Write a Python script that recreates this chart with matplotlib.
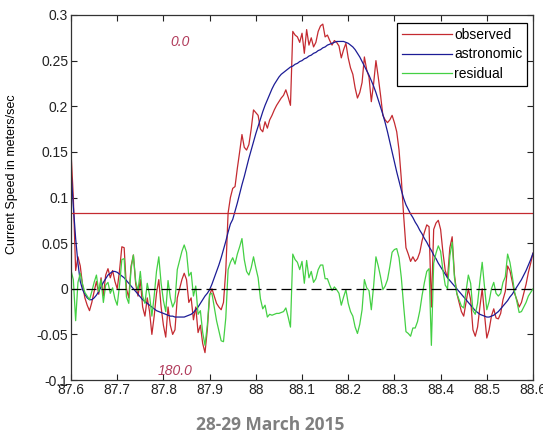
import numpy as np
import matplotlib
matplotlib.use("Agg")
import matplotlib.pyplot as plt

# time in days, sampled every 0.005 day
t = np.linspace(87.6, 88.6, 201)

observed = [
    0.150, 0.100, 0.020, 0.035, 0.025, 0.004, -0.010, -0.018, -0.024, -0.015,
    -0.003, 0.008, -0.006, 0.012, -0.008, 0.015, 0.022, 0.012, 0.020, 0.008,
    0.000, 0.020, 0.046, 0.045, 0.000, -0.010, 0.025, 0.037, 0.005, -0.008,
    0.010, -0.020, -0.030, -0.010, -0.025, -0.050, -0.030, -0.005, 0.010, -0.020,
    -0.040, -0.053, -0.020, -0.040, -0.050, -0.045, -0.010, 0.000, 0.010, 0.017,
    0.010, -0.015, -0.010, -0.034, -0.020, -0.048, -0.040, -0.060, -0.070, -0.045,
    -0.007, 0.000, -0.008, -0.016, -0.020, -0.023, -0.015, 0.020, 0.083, 0.100,
    0.110, 0.112, 0.132, 0.150, 0.169, 0.155, 0.152, 0.158, 0.175, 0.196,
    0.193, 0.190, 0.175, 0.172, 0.183, 0.176, 0.185, 0.190, 0.196, 0.201,
    0.205, 0.209, 0.212, 0.218, 0.210, 0.201, 0.282, 0.278, 0.276, 0.270,
    0.280, 0.258, 0.284, 0.267, 0.275, 0.265, 0.270, 0.282, 0.288, 0.290,
    0.276, 0.278, 0.272, 0.267, 0.272, 0.270, 0.266, 0.253, 0.262, 0.269,
    0.253, 0.242, 0.235, 0.220, 0.209, 0.215, 0.226, 0.254, 0.240, 0.232,
    0.205, 0.225, 0.250, 0.232, 0.212, 0.190, 0.185, 0.182, 0.185, 0.190,
    0.182, 0.172, 0.152, 0.120, 0.080, 0.045, 0.038, 0.030, 0.035, 0.030,
    0.033, 0.040, 0.053, 0.062, 0.070, 0.068, -0.020, 0.065, 0.072, 0.075,
    0.065, 0.040, 0.020, 0.012, 0.045, 0.057, 0.015, -0.005, -0.015, -0.025,
    -0.030, -0.015, 0.000, -0.012, -0.045, -0.052, -0.042, -0.020, 0.000, -0.028,
    -0.054, -0.045, -0.030, -0.022, -0.032, -0.033, -0.027, -0.012, -0.003, 0.025,
    0.020, 0.008, -0.005, -0.012, -0.020, -0.015, -0.005, 0.005, 0.018, 0.028,
    0.039,
]

astronomic = [
    0.130, 0.090, 0.055, 0.028, 0.008, -0.001, -0.006, -0.010, -0.012, -0.012,
    -0.010, -0.007, -0.003, 0.002, 0.007, 0.011, 0.015, 0.017, 0.019, 0.019,
    0.018, 0.016, 0.014, 0.012, 0.009, 0.006, 0.003, 0.000, -0.003, -0.006,
    -0.009, -0.012, -0.014, -0.016, -0.018, -0.020, -0.022, -0.024, -0.025, -0.026,
    -0.027, -0.028, -0.029, -0.030, -0.030, -0.031, -0.031, -0.031, -0.031, -0.031,
    -0.030, -0.029, -0.028, -0.026, -0.023, -0.020, -0.016, -0.012, -0.008, -0.005,
    -0.001, 0.005, 0.012, 0.019, 0.026, 0.034, 0.043, 0.052, 0.062, 0.071,
    0.076, 0.085, 0.094, 0.104, 0.114, 0.123, 0.133, 0.143, 0.152, 0.161,
    0.170, 0.178, 0.186, 0.194, 0.201, 0.207, 0.213, 0.219, 0.224, 0.228,
    0.232, 0.235, 0.237, 0.239, 0.241, 0.243, 0.244, 0.246, 0.247, 0.249,
    0.250, 0.252, 0.253, 0.255, 0.256, 0.258, 0.259, 0.261, 0.262, 0.264,
    0.265, 0.267, 0.268, 0.269, 0.270, 0.271, 0.271, 0.271, 0.271, 0.270,
    0.269, 0.267, 0.265, 0.262, 0.258, 0.254, 0.249, 0.244, 0.239, 0.234,
    0.228, 0.222, 0.215, 0.207, 0.199, 0.191, 0.182, 0.172, 0.161, 0.150,
    0.139, 0.128, 0.118, 0.108, 0.099, 0.092, 0.087, 0.082, 0.078, 0.073,
    0.069, 0.064, 0.060, 0.055, 0.051, 0.046, 0.042, 0.037, 0.033, 0.028,
    0.024, 0.020, 0.016, 0.012, 0.009, 0.006, 0.003, 0.000, -0.003, -0.006,
    -0.009, -0.012, -0.015, -0.018, -0.021, -0.024, -0.026, -0.028, -0.029, -0.030,
    -0.031, -0.031, -0.030, -0.029, -0.027, -0.025, -0.022, -0.019, -0.016, -0.013,
    -0.009, -0.006, -0.002, 0.002, 0.006, 0.010, 0.015, 0.020, 0.026, 0.032,
    0.039,
]

residual = [
    0.020, 0.010, -0.035, 0.007, 0.017, 0.005, -0.004, -0.008, -0.012, -0.003,
    0.007, 0.015, -0.003, 0.010, -0.015, 0.004, 0.007, -0.005, 0.001, -0.011,
    -0.018, 0.004, 0.032, 0.033, -0.009, -0.016, 0.022, 0.037, 0.008, -0.002,
    0.019, -0.008, -0.016, 0.006, -0.007, -0.030, -0.008, 0.019, 0.035, 0.006,
    -0.013, -0.025, 0.009, -0.010, -0.020, -0.014, 0.021, 0.031, 0.041, 0.048,
    0.040, 0.014, 0.018, -0.008, 0.003, -0.028, -0.024, -0.048, -0.062, -0.040,
    -0.006, -0.005, -0.020, -0.035, -0.046, -0.057, -0.058, -0.032, 0.021, 0.029,
    0.034, 0.027, 0.038, 0.046, 0.055, 0.032, 0.019, 0.015, 0.023, 0.035,
    0.023, 0.012, -0.011, -0.022, -0.018, -0.031, -0.028, -0.029, -0.028, -0.027,
    -0.027, -0.026, -0.025, -0.021, -0.031, -0.042, 0.038, 0.032, 0.029, 0.021,
    0.030, 0.006, 0.031, 0.012, 0.019, 0.007, 0.011, 0.021, 0.026, 0.026,
    0.011, 0.011, 0.004, -0.002, 0.002, -0.001, -0.005, -0.018, -0.009, -0.001,
    -0.016, -0.025, -0.030, -0.042, -0.049, -0.039, -0.023, 0.010, 0.001, -0.002,
    -0.023, 0.003, 0.035, 0.025, 0.013, -0.001, 0.003, 0.010, 0.024, 0.040,
    0.043, 0.044, 0.034, 0.012, -0.019, -0.047, -0.049, -0.052, -0.043, -0.043,
    -0.036, -0.024, -0.007, 0.007, 0.019, 0.022, -0.062, 0.028, 0.039, 0.047,
    0.041, 0.020, 0.004, 0.000, 0.036, 0.051, 0.012, -0.005, -0.012, -0.019,
    -0.021, -0.003, 0.015, 0.006, -0.024, -0.028, -0.016, 0.008, 0.029, 0.002,
    -0.023, -0.014, 0.000, 0.007, -0.005, -0.008, -0.005, 0.007, 0.013, 0.038,
    0.029, 0.014, -0.003, -0.014, -0.026, -0.025, -0.020, -0.015, -0.008, -0.004,
    0.000,
]

threshold = 0.083
xticks = [87.6, 87.7, 87.8, 87.9, 88.0, 88.1, 88.2, 88.3, 88.4, 88.5, 88.6]
xticklabels = ["87.6", "87.7", "87.8", "87.9", "88", "88.1", "88.2", "88.3", "88.4", "88.5", "88.6"]
yticks = [-0.1, -0.05, 0, 0.05, 0.1, 0.15, 0.2, 0.25, 0.3]
yticklabels = ["-0.1", "-0.05", "0", "0.05", "0.1", "0.15", "0.2", "0.25", "0.3"]

plt.rcParams['font.family'] = ['Liberation Sans', 'DejaVu Sans']

fig = plt.figure(figsize=(5.43, 4.37), dpi=100)
ax = fig.add_axes([0.1308, 0.1304, 0.8508, 0.8353])

ax.plot(t, observed, color='#c42a30', lw=0.9, label='observed')
ax.plot(t, astronomic, color='#1c1c96', lw=0.9, label='astronomic')
ax.plot(t, residual, color='#44d044', lw=0.9, label='residual')
ax.axhline(threshold, color='#c42a30', lw=0.9)
ax.axhline(0, color='black', lw=0.9, linestyle=(0, (8, 4)))

ax.text(87.836, 0.27, "0.0", color='#b03a5a', fontstyle='italic', fontsize=10, ha='center', va='center')
ax.text(87.825, -0.09, "180.0", color='#b03a5a', fontstyle='italic', fontsize=10, ha='center', va='center')

ax.set_xlim(87.6, 88.6)
ax.set_ylim(-0.1, 0.3)
ax.set_xticks(xticks)
ax.set_xticklabels(xticklabels)
ax.set_yticks(yticks)
ax.set_yticklabels(yticklabels)
ax.tick_params(direction='in', top=True, right=True, length=4, labelsize=10,
               colors='#222222', pad=2)
for s in ax.spines.values():
    s.set_color('#333333')
    s.set_linewidth(0.9)
ax.set_ylabel("Current Speed in meters/sec", fontsize=9)
ax.yaxis.set_label_coords(-0.115, 0.564)

leg = ax.legend(loc='upper right', bbox_to_anchor=(0.987, 0.978), borderaxespad=0,
                fancybox=False, framealpha=1, edgecolor='black', fontsize=10,
                handlelength=3.6, handletextpad=0.15, labelspacing=0.4,
                borderpad=0.35)
leg.get_frame().set_linewidth(0.9)

fig.text(0.497, 0.027, "28-29 March 2015", ha='center', va='center',
         fontsize=12.5, fontweight='bold', color='#7f7f7f', family='Open Sans')

fig.savefig("out.png", dpi=100)
